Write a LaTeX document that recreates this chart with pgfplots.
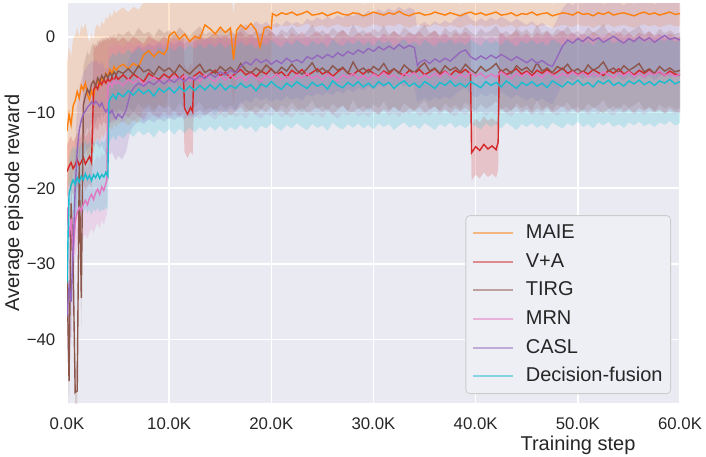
\documentclass[border=0pt]{standalone}
\usepackage{pgfplots}
\pgfplotsset{compat=1.18}
\usepackage{pgfplotstable}
\usepgfplotslibrary{fillbetween}
\usepackage{fontspec}
\setmainfont{Liberation Sans}

\definecolor{cOr}{HTML}{FF7F0E}
\definecolor{cRe}{HTML}{D62728}
\definecolor{cBr}{HTML}{8C564B}
\definecolor{cPk}{HTML}{E377C2}
\definecolor{cPu}{HTML}{9467BD}
\definecolor{cCy}{HTML}{17BECF}
\definecolor{axisbg}{HTML}{EAEAF2}
\definecolor{txt}{HTML}{262626}

% x in thousands of steps, y = mean reward, w = half width of the band
\pgfplotstableread{
x y w
0.0 -12.4 9
0.2 -10.2 9
0.4 -11.6 9
0.6 -9.1 9
0.8 -8.4 8.5
1.0 -7.2 8.5
1.2 -8.1 8
1.4 -6.4 8
1.6 -7.0 8
1.8 -6.1 8
2.0 -7.6 8
2.2 -8.3 7.5
2.4 -7.1 7.5
2.6 -7.9 7.5
2.8 -6.2 7.5
3.0 -5.8 7.5
3.2 -6.4 7.5
3.4 -5.4 7.5
3.6 -5.9 7.5
3.8 -4.8 7.5
4.0 -5.2 7.5
4.2 -4.3 7.5
4.4 -4.9 7.5
4.6 -3.9 7.5
4.8 -4.4 7.5
5.0 -4.0 7.5
5.5 -3.6 7.5
6.0 -4.2 7.5
6.5 -3.5 7.5
7.0 -3.9 7.5
7.5 -2.4 7
8.0 -1.8 7
8.5 -2.6 7
9.0 -1.9 7
9.5 -2.3 7
9.8 -1.6 7
10.0 0.2 6.5
10.5 0.7 6.5
11.0 -0.3 6.5
11.5 0.4 6.5
12.0 -0.6 6.5
12.5 0.1 6.5
13.0 -0.2 6.5
13.5 1.6 6
14.0 1.1 6
14.5 0.4 6
15.0 1.3 6
15.5 0.6 6
16.0 1.2 6
16.3 -3.0 6
16.6 0.9 6
17.0 1.6 6
17.5 1.0 6
18.0 1.8 6
18.5 0.9 6
18.9 -1.3 6
19.3 1.2 6
19.7 1.4 6
20.0 1.1 6
20.1 3.1 1.6
20.5 2.8 1.6
21.0 3.2 1.6
21.5 3.0 1.6
22.0 3.3 1.6
22.5 2.9 1.6
23.0 3.1 1.6
23.5 3.4 1.6
24.0 2.9 1.6
24.5 3.0 1.6
25.0 3.2 1.6
25.5 2.8 1.6
26.0 3.1 1.6
26.5 3.3 1.6
27.0 3.0 1.6
27.5 2.9 1.6
28.0 3.2 1.6
28.5 3.1 1.6
29.0 2.8 1.6
29.5 3.0 1.6
30.0 3.3 1.6
30.5 3.1 1.6
31.0 2.9 1.6
31.5 3.2 1.6
32.0 3.0 1.6
32.5 3.4 1.6
33.0 3.0 1.6
33.5 2.8 1.6
34.0 3.1 1.6
34.5 3.2 1.6
35.0 2.9 1.6
35.5 3.0 1.6
36.0 3.3 1.6
36.5 3.1 1.6
37.0 2.9 1.6
37.5 3.2 1.6
38.0 3.0 1.6
38.5 2.8 1.6
39.0 3.1 1.6
39.5 3.3 1.6
40.0 3.0 1.6
40.5 3.2 1.6
41.0 2.9 1.6
41.5 3.1 1.6
42.0 3.3 1.6
42.5 2.9 1.6
43.0 3.0 1.6
43.5 3.2 1.6
44.0 2.8 1.6
44.5 3.1 1.6
45.0 3.0 1.6
45.5 3.3 1.6
46.0 2.9 1.6
46.5 3.1 1.6
47.0 3.2 1.6
47.5 2.8 1.6
48.0 3.0 1.6
48.5 3.2 1.6
49.0 3.1 1.6
49.5 2.9 1.6
50.0 3.3 1.6
50.5 3.0 1.6
51.0 3.1 1.6
51.5 2.8 1.6
52.0 3.2 1.6
52.5 3.0 1.6
53.0 3.3 1.6
53.5 2.9 1.6
54.0 3.1 1.6
54.5 3.2 1.6
55.0 3.0 1.6
55.5 2.8 1.6
56.0 3.1 1.6
56.5 3.3 1.6
57.0 3.0 1.6
57.5 3.2 1.6
58.0 2.9 1.6
58.5 3.1 1.6
59.0 3.3 1.6
59.5 3.0 1.6
60.0 3.1 1.6
}\maie

\pgfplotstableread{
x y w
0.0 -17.8 3.5
0.2 -17.1 3.5
0.4 -16.6 3.5
0.6 -17.4 3.5
0.8 -16.9 3.5
1.0 -16.2 3.5
1.2 -17.0 3.5
1.4 -16.5 3.5
1.6 -15.9 3.5
1.8 -16.8 3.5
2.0 -16.3 3.5
2.2 -15.8 3.5
2.4 -16.6 3.5
2.6 -7.0 5.5
2.8 -6.4 5.5
3.0 -6.9 5.5
3.2 -5.8 5.5
3.4 -6.3 5.5
3.6 -5.6 5.5
3.8 -6.1 5.5
4.0 -5.5 5.5
4.2 -6.0 5.5
4.4 -5.3 5.5
4.6 -5.8 5.5
4.8 -5.1 5
5.0 -5.6 5
5.5 -5.0 5
6.0 -5.7 5
6.5 -4.9 5
7.0 -5.4 5
7.5 -5.9 5
8.0 -4.8 5
8.5 -5.3 5
9.0 -5.6 5
9.5 -4.9 5
10.0 -5.4 5
10.5 -4.7 5
11.0 -5.5 5
11.4 -5.0 5
11.5 -9.4 5.8
11.8 -10.2 5.8
12.1 -9.3 5.8
12.3 -9.9 5.8
12.4 -5.2 5
13.0 -4.6 5
13.5 -5.3 5
14.0 -4.9 5
14.5 -4.4 5
15.0 -5.1 5
15.5 -4.7 5
16.0 -5.4 5
16.5 -4.8 5
17.0 -4.3 5
17.5 -5.0 5
18.0 -4.6 5
18.5 -5.2 5
19.0 -4.5 5
19.5 -4.9 5
20.0 -4.2 5
20.5 -5.0 5
21.0 -4.6 5
21.5 -5.3 5
22.0 -4.4 5
22.5 -4.9 5
23.0 -4.3 5
23.5 -5.1 5
24.0 -4.7 5
24.5 -4.2 5
25.0 -4.9 5
25.5 -4.5 5
26.0 -5.2 5
26.5 -4.6 5
27.0 -4.1 5
27.5 -4.8 5
28.0 -5.0 5
28.5 -4.4 5
29.0 -4.9 5
29.5 -4.3 5
30.0 -4.8 5
30.5 -5.2 5
31.0 -4.5 5
31.5 -4.9 5
32.0 -4.2 5
32.5 -4.7 5
33.0 -5.1 5
33.5 -4.4 5
34.0 -4.8 5
34.5 -4.3 5
35.0 -5.0 5
35.5 -4.6 5
36.0 -4.2 5
36.5 -4.9 5
37.0 -4.5 5
37.5 -5.1 5
38.0 -4.4 5
38.5 -4.8 5
39.0 -4.3 5
39.5 -4.9 5
39.6 -15.3 3.7
40.0 -14.5 3.7
40.4 -15.0 3.7
40.8 -14.2 3.7
41.2 -14.8 3.7
41.6 -14.4 3.7
42.0 -14.9 3.7
42.2 -13.9 3.7
42.3 -4.7 5
42.5 -4.4 5
43.0 -5.0 5
43.5 -4.6 5
44.0 -4.2 5
44.5 -4.9 5
45.0 -4.5 5
45.5 -5.1 5
46.0 -4.4 5
46.5 -4.8 5
47.0 -4.3 5
47.5 -5.0 5
48.0 -4.6 5
48.5 -4.1 5
49.0 -4.8 5
49.5 -4.4 5
50.0 -5.0 5
50.5 -4.5 5
51.0 -4.9 5
51.5 -4.3 5
52.0 -4.7 5
52.5 -5.1 5
53.0 -4.4 5
53.5 -4.8 5
54.0 -4.2 5
54.5 -4.9 5
55.0 -4.5 5
55.5 -5.0 5
56.0 -4.4 5
56.5 -4.8 5
57.0 -4.3 5
57.5 -4.9 5
58.0 -4.6 5
58.5 -5.1 5
59.0 -4.5 5
59.5 -4.9 5
60.0 -5.0 5
}\va

\pgfplotstableread{
x y w
0.0 -31.0 4
0.2 -45.5 4
0.4 -22.0 4
0.6 -30.0 4
0.8 -47.0 4
1.0 -46.8 4
1.2 -17.0 4
1.4 -34.5 4
1.6 -9.0 5
1.8 -7.8 5
2.0 -6.9 5
2.2 -7.5 5
2.4 -6.2 5
2.6 -5.8 5
2.8 -6.5 5
3.0 -5.4 5
3.2 -5.9 5
3.4 -5.1 5
3.6 -5.6 5
3.8 -4.9 5
4.0 -5.4 5
4.2 -4.7 5
4.4 -5.2 5
4.6 -4.6 5
4.8 -5.0 5
5.0 -4.5 5
5.5 -4.8 5
6.0 -4.2 5
6.5 -4.9 5
7.0 -3.8 5
7.5 -4.6 5
8.0 -4.3 5
8.5 -5.0 5
9.0 -3.9 5
9.5 -4.5 5
10.0 -4.1 5
10.5 -4.8 5
11.0 -3.7 5
11.5 -4.4 5
12.0 -4.9 5
12.5 -4.2 5
13.0 -3.6 5
13.5 -4.7 5
14.0 -4.3 5
14.5 -4.8 5
15.0 -3.9 5
15.5 -4.5 5
16.0 -4.0 5
16.5 -4.7 5
17.0 -3.5 5
17.5 -4.4 5
18.0 -4.8 5
18.5 -4.1 5
19.0 -4.6 5
19.5 -3.7 5
20.0 -4.3 5
20.5 -4.8 5
21.0 -4.0 5
21.5 -4.5 5
22.0 -3.6 5
22.5 -4.4 5
23.0 -4.9 5
23.5 -4.2 5
24.0 -3.4 5
24.5 -4.6 5
25.0 -4.1 5
25.5 -4.7 5
26.0 -3.8 5
26.5 -4.4 5
27.0 -4.0 5
27.5 -4.8 5
28.0 -3.3 5
28.5 -4.5 5
29.0 -4.1 5
29.5 -4.7 5
30.0 -3.9 5
30.5 -4.4 5
31.0 -3.5 5
31.5 -4.6 5
32.0 -4.2 5
32.5 -4.8 5
33.0 -3.7 5
33.5 -4.3 5
34.0 -4.7 5
34.5 -4.0 5
35.0 -3.4 5
35.5 -4.5 5
36.0 -4.1 5
36.5 -4.8 5
37.0 -3.8 5
37.5 -4.4 5
38.0 -4.0 5
38.5 -4.6 5
39.0 -3.6 5
39.5 -4.3 5
40.0 -4.8 5
40.5 -3.9 5
41.0 -4.5 5
41.5 -4.1 5
42.0 -3.5 5
42.5 -4.6 5
43.0 -4.2 5
43.5 -4.8 5
44.0 -3.8 5
44.5 -4.4 5
45.0 -4.0 5
45.5 -4.7 5
46.0 -3.4 5
46.5 -4.5 5
47.0 -4.1 5
47.5 -4.7 5
48.0 -3.9 5
48.5 -4.3 5
49.0 -3.6 5
49.5 -4.6 5
50.0 -4.2 5
50.5 -4.8 5
51.0 -3.7 5
51.5 -4.4 5
52.0 -4.0 5
52.5 -3.3 5
53.0 -4.5 5
53.5 -4.1 5
54.0 -4.7 5
54.5 -3.8 5
55.0 -4.4 5
55.5 -4.0 5
56.0 -3.5 5
56.5 -4.6 5
57.0 -4.2 5
57.5 -4.8 5
58.0 -3.9 5
58.5 -4.5 5
59.0 -4.1 5
59.5 -4.6 5
60.0 -4.4 5
}\tirg

\pgfplotstableread{
x y w
0.0 -22.5 4.5
0.2 -26.5 4.5
0.4 -24.0 4.5
0.6 -29.0 4.5
0.8 -24.5 4.5
1.0 -23.2 4.5
1.2 -22.5 4.5
1.4 -23.0 4.5
1.6 -22.1 4.5
1.8 -21.6 4.5
2.0 -22.2 4.5
2.2 -21.3 4.5
2.4 -20.8 4.5
2.6 -21.5 4.5
2.8 -20.6 4.5
3.0 -20.1 4.5
3.2 -20.8 4.5
3.4 -19.8 4.5
3.6 -20.3 4.5
3.8 -19.4 4.5
3.9 -19.0 4.5
4.0 -6.5 5
4.2 -6.0 5
4.4 -6.6 5
4.6 -5.7 5
4.8 -6.2 5
5.0 -5.9 5
5.5 -6.4 5
6.0 -5.6 5
6.5 -6.1 5
7.0 -5.5 5
7.5 -6.2 5
8.0 -5.8 5
8.5 -5.3 5
9.0 -6.0 5
9.5 -5.4 5
10.0 -5.9 5
10.5 -5.2 5
11.0 -5.7 5
11.5 -5.1 5
12.0 -5.8 5
12.5 -5.3 5
13.0 -5.9 5
13.5 -5.0 5
14.0 -5.5 5
14.5 -5.9 5
15.0 -5.2 5
15.5 -5.7 5
16.0 -5.0 5
16.5 -5.6 5
17.0 -5.2 5
17.5 -5.8 5
18.0 -4.9 5
18.5 -5.4 5
19.0 -5.8 5
19.5 -5.1 5
20.0 -5.5 5
20.5 -4.9 5
21.0 -5.6 5
21.5 -5.2 5
22.0 -5.7 5
22.5 -5.0 5
23.0 -5.4 5
23.5 -4.8 5
24.0 -5.5 5
24.5 -5.1 5
25.0 -5.7 5
25.5 -4.9 5
26.0 -5.3 5
26.5 -5.8 5
27.0 -5.0 5
27.5 -5.4 5
28.0 -4.8 5
28.5 -5.5 5
29.0 -5.1 5
29.5 -5.6 5
30.0 -4.9 5
30.5 -5.3 5
31.0 -4.7 5
31.5 -5.4 5
32.0 -5.0 5
32.5 -5.6 5
33.0 -4.8 5
33.5 -5.2 5
34.0 -4.7 5
34.5 -5.5 5
35.0 -5.0 5
35.5 -5.4 5
36.0 -4.8 5
36.5 -5.3 5
37.0 -4.6 5
37.5 -5.1 5
38.0 -5.5 5
38.5 -4.9 5
39.0 -5.3 5
39.5 -4.7 5
40.0 -5.2 5
40.5 -4.8 5
41.0 -5.4 5
41.5 -4.9 5
42.0 -5.3 5
42.5 -4.6 5
43.0 -5.1 5
43.5 -5.5 5
44.0 -4.8 5
44.5 -5.2 5
45.0 -4.7 5
45.5 -5.3 5
46.0 -4.9 5
46.5 -5.4 5
47.0 -4.6 5
47.5 -5.0 5
48.0 -5.4 5
48.5 -4.8 5
49.0 -5.2 5
49.5 -4.6 5
50.0 -5.1 5
50.5 -4.7 5
51.0 -5.3 5
51.5 -4.8 5
52.0 -5.2 5
52.5 -4.6 5
53.0 -5.0 5
53.5 -5.4 5
54.0 -4.7 5
54.5 -5.1 5
55.0 -4.6 5
55.5 -5.2 5
56.0 -4.8 5
56.5 -5.3 5
57.0 -4.7 5
57.5 -5.0 5
58.0 -4.5 5
58.5 -5.1 5
59.0 -4.8 5
59.5 -5.2 5
60.0 -4.9 5
}\mrn

\pgfplotstableread{
x y w
0.0 -37.0 6
0.2 -33.0 6
0.4 -35.0 6
0.6 -28.0 6
0.8 -20.0 6
1.0 -15.0 6
1.2 -12.3 5.5
1.4 -11.0 5.5
1.6 -10.2 5.5
1.8 -9.8 5.5
2.0 -9.3 5.5
2.2 -9.0 5.5
2.4 -8.6 5.5
2.6 -8.9 5.5
2.8 -8.5 5.5
3.0 -8.8 5.5
3.2 -9.2 5.5
3.4 -8.7 5.5
3.6 -9.4 5.5
3.8 -9.9 5.5
4.0 -9.5 5.5
4.2 -10.1 5.5
4.4 -9.7 5.5
4.6 -10.4 5.5
4.8 -10.8 5.5
5.0 -10.2 5.5
5.4 -10.7 5.5
5.8 -9.6 5.5
6.2 -7.4 5
6.6 -6.6 5
7.0 -6.1 5
7.5 -6.5 5
8.0 -5.9 5
8.5 -6.3 5
9.0 -5.7 5
9.5 -6.2 5
10.0 -5.6 5
10.5 -6.0 5
11.0 -5.4 5
11.5 -5.9 5
12.0 -5.3 5
12.5 -5.7 5
13.0 -5.1 5
13.5 -5.5 5
14.0 -4.9 5
14.5 -5.3 5
15.0 -4.6 5
15.5 -5.0 5
16.0 -4.4 5
16.5 -4.8 5
17.0 -3.9 5
17.5 -3.3 5
18.0 -3.7 5
18.5 -2.9 5
19.0 -3.4 5
19.5 -3.0 5
20.0 -3.6 5
20.5 -3.1 5
21.0 -3.5 5
21.5 -2.8 5
22.0 -3.3 5
22.5 -3.0 5
23.0 -3.4 5
23.5 -2.6 5
24.0 -2.9 5
24.5 -2.4 5
25.0 -2.8 5
25.5 -2.3 5
26.0 -2.7 5
26.5 -2.1 5
27.0 -2.5 5
27.5 -1.9 5
28.0 -2.3 5
28.5 -1.7 5
29.0 -2.1 5
29.5 -1.5 5
30.0 -1.9 5
30.5 -1.3 5
31.0 -1.7 5
31.5 -1.2 5
32.0 -1.6 5
32.5 -1.0 5
33.0 -1.5 5
33.5 -1.1 5
34.0 -1.4 5
34.3 -3.8 5
34.5 -3.4 5
35.0 -3.0 5
35.5 -3.5 5
36.0 -2.9 5
36.5 -3.3 5
37.0 -2.8 5
37.5 -3.2 5
38.0 -2.6 5
38.5 -2.0 5
39.0 -1.7 5
39.5 -2.6 5
40.0 -3.0 5
40.5 -2.5 5
41.0 -2.9 5
41.5 -2.4 5
42.0 -2.8 5
42.5 -2.3 5
43.0 -2.7 5
43.5 -3.1 5
44.0 -2.6 5
44.5 -3.0 5
45.0 -3.4 5
45.5 -2.9 5
46.0 -3.5 5
46.5 -3.1 5
47.0 -3.6 5
47.5 -3.9 5
48.0 -2.6 5
48.5 -1.2 5
49.0 -0.4 5
49.5 -0.8 5
50.0 -0.2 5
50.5 -0.6 5
51.0 0.0 5
51.5 -0.5 5
52.0 -0.1 5
52.5 -0.7 5
53.0 -0.3 5
53.5 0.1 5
54.0 -0.4 5
54.5 -0.8 5
55.0 -0.2 5
55.5 -0.6 5
56.0 0.0 5
56.5 -0.5 5
57.0 -0.1 5
57.5 -0.7 5
58.0 -0.2 5
58.5 0.2 5
59.0 -0.3 5
59.5 -0.1 5
60.0 -0.4 5
}\casl

\pgfplotstableread{
x y w
0.0 -32.5 6
0.2 -20.8 4.5
0.4 -19.6 4.5
0.6 -18.9 4.5
0.8 -19.5 4.5
1.0 -18.6 4.5
1.2 -19.2 4.5
1.4 -18.4 4.5
1.6 -18.9 4.5
1.8 -18.1 4.5
2.0 -18.8 4.5
2.2 -18.3 4.5
2.4 -19.0 4.5
2.6 -18.2 4.5
2.8 -18.6 4.5
3.0 -18.0 4.5
3.2 -18.7 4.5
3.4 -18.2 4.5
3.6 -18.5 4.5
3.8 -17.9 4.5
4.0 -18.4 4.5
4.1 -8.6 5.5
4.3 -8.0 5.5
4.5 -7.6 5.5
4.8 -8.2 5.5
5.0 -7.4 5.5
5.5 -7.9 5.5
6.0 -7.1 5.5
6.5 -7.7 5.5
7.0 -6.9 5.5
7.5 -7.5 5.5
8.0 -7.0 5.5
8.5 -7.8 5.5
9.0 -6.8 5.5
9.5 -7.3 5.5
10.0 -6.7 5.5
10.5 -7.4 5.5
11.0 -6.6 5.5
11.5 -7.2 5.5
12.0 -6.5 5.5
12.5 -7.1 5.5
13.0 -6.4 5.5
13.5 -7.0 5.5
14.0 -6.3 5.5
14.5 -6.9 5.5
15.0 -6.2 5.5
15.5 -7.0 5.5
16.0 -6.4 5.5
16.5 -6.8 5.5
17.0 -6.1 5.5
17.5 -6.7 5.5
18.0 -6.3 5.5
18.5 -7.1 5.5
19.0 -6.2 5.5
19.5 -6.6 5.5
20.0 -5.9 5.5
20.5 -6.5 5.5
21.0 -6.9 5.5
21.5 -6.1 5.5
22.0 -6.6 5.5
22.5 -5.9 5.5
23.0 -6.4 5.5
23.5 -6.8 5.5
24.0 -6.0 5.5
24.5 -6.5 5.5
25.0 -6.2 5.5
25.5 -6.9 5.5
26.0 -5.8 5.5
26.5 -6.4 5.5
27.0 -6.7 5.5
27.5 -6.0 5.5
28.0 -6.5 5.5
28.5 -5.9 5.5
29.0 -6.6 5.5
29.5 -6.1 5.5
30.0 -6.7 5.5
30.5 -5.9 5.5
31.0 -6.4 5.5
31.5 -6.0 5.5
32.0 -6.8 5.5
32.5 -6.2 5.5
33.0 -5.8 5.5
33.5 -6.5 5.5
34.0 -6.1 5.5
34.5 -6.7 5.5
35.0 -5.9 5.5
35.5 -6.3 5.5
36.0 -6.8 5.5
36.5 -6.0 5.5
37.0 -6.4 5.5
37.5 -5.8 5.5
38.0 -6.5 5.5
38.5 -6.1 5.5
39.0 -6.6 5.5
39.5 -5.9 5.5
40.0 -6.3 5.5
40.5 -6.7 5.5
41.0 -5.9 5.5
41.5 -6.4 5.5
42.0 -6.0 5.5
42.5 -6.6 5.5
43.0 -5.8 5.5
43.5 -6.3 5.5
44.0 -6.8 5.5
44.5 -6.0 5.5
45.0 -6.4 5.5
45.5 -5.9 5.5
46.0 -6.5 5.5
46.5 -6.1 5.5
47.0 -6.7 5.5
47.5 -5.8 5.5
48.0 -6.2 5.5
48.5 -6.6 5.5
49.0 -5.9 5.5
49.5 -6.3 5.5
50.0 -5.7 5.5
50.5 -6.4 5.5
51.0 -6.0 5.5
51.5 -6.6 5.5
52.0 -5.8 5.5
52.5 -6.2 5.5
53.0 -5.7 5.5
53.5 -6.4 5.5
54.0 -6.0 5.5
54.5 -6.5 5.5
55.0 -5.8 5.5
55.5 -6.2 5.5
56.0 -5.7 5.5
56.5 -6.3 5.5
57.0 -5.9 5.5
57.5 -6.4 5.5
58.0 -5.8 5.5
58.5 -6.1 5.5
59.0 -5.6 5.5
59.5 -6.2 5.5
60.0 -5.9 5.5
}\decf

\begin{document}
\begin{tikzpicture}
\begin{axis}[
    width=306.5pt, height=200pt, scale only axis,
    xmin=0, xmax=60, ymin=-48.4, ymax=4.5,
    axis background/.style={fill=axisbg},
    axis line style={draw=none},
    major tick length=0pt,
    grid=major,
    major grid style={white, line width=0.8pt},
    xtick={0,10,20,30,40,50,60},
    xticklabels={0.0K,10.0K,20.0K,30.0K,40.0K,50.0K,60.0K},
    ytick={-40,-30,-20,-10,0},
    yticklabels={−40,−30,−20,−10,0},
    tick label style={font=\fontsize{8.4}{10}\selectfont, text=txt},
    xticklabel style={yshift=-4pt},
    yticklabel style={xshift=-2.3pt},
    xlabel={Training step},
    ylabel={Average episode reward},
    label style={font=\fontsize{10}{12}\selectfont, text=txt},
    xlabel style={at={(axis description cs:0.8336,0)}, anchor=north, yshift=-13pt},
    ylabel style={at={(axis description cs:-0.0865,0.5)}, anchor=center},
    every axis plot/.append style={line width=0.7pt},
    legend cell align=left,
    legend image code/.code={\draw[#1, line width=1pt, draw opacity=0.5] (0pt,0pt) -- (20pt,0pt);},
    legend style={at={(axis description cs:1,0)}, anchor=south east,
        xshift=-4.5pt, yshift=4.5pt,
        draw=black!20, fill=axisbg!80!white, rounded corners=2pt,
        font=\fontsize{10}{12}\selectfont\color{txt},
        inner xsep=3pt, inner ysep=3pt, row sep=2.8pt,
        nodes={inner sep=1pt, text height=7.5pt, text depth=2pt},
        column sep=5pt},
]
% bands first, lines on top
\addplot[draw=none, forget plot, name path=aU] table[x=x, y expr=\thisrow{y}+\thisrow{w}] {\maie};
\addplot[draw=none, forget plot, name path=aL] table[x=x, y expr=\thisrow{y}-\thisrow{w}] {\maie};
\addplot[cOr, fill opacity=0.2, draw=none, forget plot] fill between[of=aU and aL];
\addplot[draw=none, forget plot, name path=bU] table[x=x, y expr=\thisrow{y}+\thisrow{w}] {\va};
\addplot[draw=none, forget plot, name path=bL] table[x=x, y expr=\thisrow{y}-\thisrow{w}] {\va};
\addplot[cRe, fill opacity=0.2, draw=none, forget plot] fill between[of=bU and bL];
\addplot[draw=none, forget plot, name path=cU] table[x=x, y expr=\thisrow{y}+\thisrow{w}] {\tirg};
\addplot[draw=none, forget plot, name path=cL] table[x=x, y expr=\thisrow{y}-\thisrow{w}] {\tirg};
\addplot[cBr, fill opacity=0.2, draw=none, forget plot] fill between[of=cU and cL];
\addplot[draw=none, forget plot, name path=dU] table[x=x, y expr=\thisrow{y}+\thisrow{w}] {\mrn};
\addplot[draw=none, forget plot, name path=dL] table[x=x, y expr=\thisrow{y}-\thisrow{w}] {\mrn};
\addplot[cPk, fill opacity=0.2, draw=none, forget plot] fill between[of=dU and dL];
\addplot[draw=none, forget plot, name path=eU] table[x=x, y expr=\thisrow{y}+\thisrow{w}] {\casl};
\addplot[draw=none, forget plot, name path=eL] table[x=x, y expr=\thisrow{y}-\thisrow{w}] {\casl};
\addplot[cPu, fill opacity=0.2, draw=none, forget plot] fill between[of=eU and eL];
\addplot[draw=none, forget plot, name path=fU] table[x=x, y expr=\thisrow{y}+\thisrow{w}] {\decf};
\addplot[draw=none, forget plot, name path=fL] table[x=x, y expr=\thisrow{y}-\thisrow{w}] {\decf};
\addplot[cCy, fill opacity=0.2, draw=none, forget plot] fill between[of=fU and fL];

\addplot[cOr] table[x=x, y=y] {\maie};
\addplot[cRe] table[x=x, y=y] {\va};
\addplot[cBr] table[x=x, y=y] {\tirg};
\addplot[cPk] table[x=x, y=y] {\mrn};
\addplot[cPu] table[x=x, y=y] {\casl};
\addplot[cCy] table[x=x, y=y] {\decf};
\legend{MAIE, V+A, TIRG, MRN, CASL, Decision-fusion}
\end{axis}
\pgfresetboundingbox
\path[use as bounding box] ([shift={(-33.5pt,-26.5pt)}]current axis.south west)
    rectangle ([shift={(13pt,1.5pt)}]current axis.north east);
\end{tikzpicture}
\end{document}
